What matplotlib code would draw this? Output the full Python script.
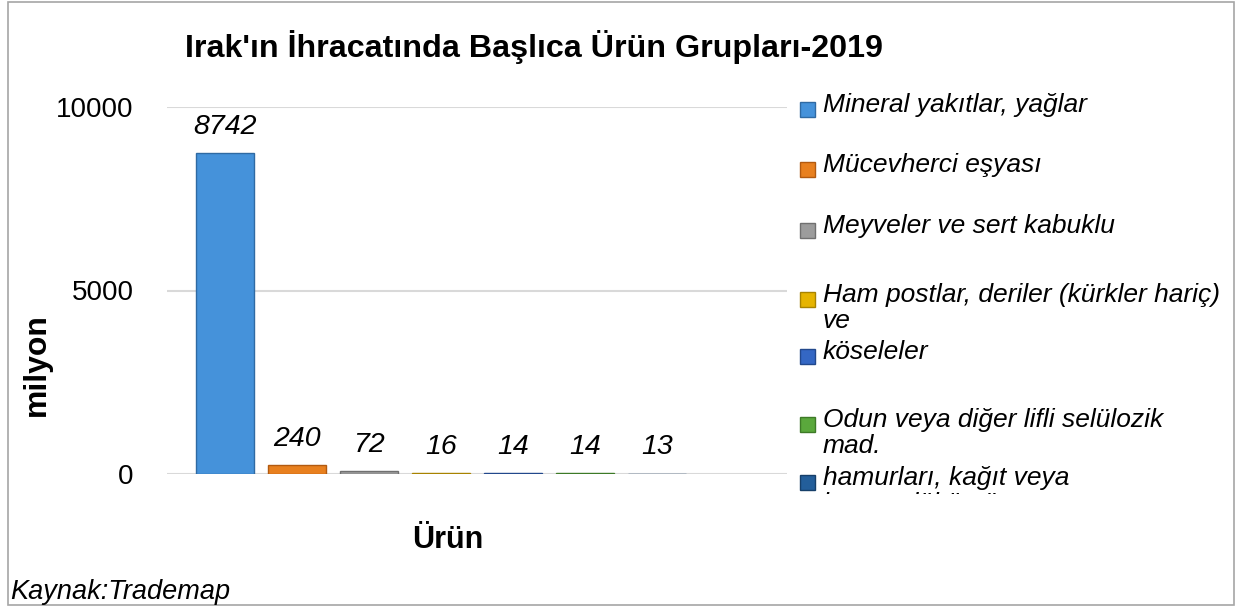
import matplotlib
matplotlib.use("Agg")
import matplotlib.pyplot as plt
from matplotlib.patches import Rectangle
from matplotlib.transforms import Bbox, TransformedBbox

plt.rcParams['font.family'] = ['Liberation Sans', 'DejaVu Sans']

# data
labels = ["Mineral yakıtlar, yağlar", "Mücevherci eşyası", "Meyveler ve sert kabuklu",
          "Ham postlar, deriler (kürkler hariç)\nve", "köseleler",
          "Odun veya diğer lifli selülozik\nmad.", "hamurları, kağıt veya\nkarton döküntü ve"]
values = [8742, 240, 72, 16, 14, 14, 13]
colors = ["#4592da", "#e8801f", "#9c9c9c", "#e6b400", "#3467c4", "#5aa83c", "#235e9a"]
edges = ["#2f6aa3", "#b25a10", "#707070", "#a88300", "#22488c", "#3d7a27", "#163f69"]

# legend rows (pixel y of first line centre)
legend_y = [105, 165, 226, 295, 352, 420, 478]

W, H = 1242, 615
fig = plt.figure(figsize=(W / 100, H / 100), dpi=100)

# outer frame
fig.patches.append(Rectangle((8 / W, 1 - 605 / H), 1226 / W, 603 / H, transform=fig.transFigure,
                             fill=False, edgecolor="#a6a6a6", lw=1.2))

ax = fig.add_axes([167 / W, 1 - 474 / H, 620 / W, 367 / H])
x = list(range(len(values)))
ax.bar(x, values, width=0.8, color=colors, edgecolor=edges, linewidth=1, zorder=3)
ax.set_xlim(-0.806, 7.806)
ax.set_ylim(0, 10000)
ax.set_yticks([0, 5000, 10000])
ax.tick_params(axis='y', length=0, pad=24, labelsize=20)
ax.set_xticks([])
ax.grid(axis='y', color="#d9d9d9", lw=1.5, zorder=0)
for s in ax.spines.values():
    s.set_visible(False)

for xi, v in zip(x, values):
    ax.annotate(str(v), (xi, v), xytext=(0, 19), textcoords='offset points',
                ha='center', va='center', fontsize=20.5, style='italic')

fig.text(534 / W, 1 - 47 / H, "Irak'ın İhracatında Başlıca Ürün Grupları-2019",
         ha='center', va='center', fontsize=23.2, fontweight='bold')
fig.text(37 / W, 1 - 365 / H, "milyon", rotation=90, ha='center', va='center',
         fontsize=23, fontweight='bold')
fig.text(448 / W, 1 - 540 / H, "Ürün", ha='center', va='center', fontsize=22, fontweight='bold')
fig.text(10 / W, 1 - 592 / H, "Kaynak:Trademap", ha='left', va='center', fontsize=19.5, style='italic')

# legend drawn by hand, last entry cut off like the original
clip = TransformedBbox(Bbox([[0, 1 - 494 / H], [1, 1]]), fig.transFigure)
for lab, yy, c, e in zip(labels, legend_y, colors, edges):
    fig.patches.append(Rectangle((800 / W, 1 - (yy + 12) / H), 15 / W, 15 / H,
                                 transform=fig.transFigure, facecolor=c, edgecolor=e, lw=1))
    for k, line in enumerate(lab.split("\n")):
        t = fig.text(823 / W, 1 - (yy + 26 * k) / H, line, ha='left', va='center',
                     fontsize=19, style='italic')
        t.set_clip_box(clip)
        t.set_clip_on(True)

fig.savefig("out.png", dpi=100)
